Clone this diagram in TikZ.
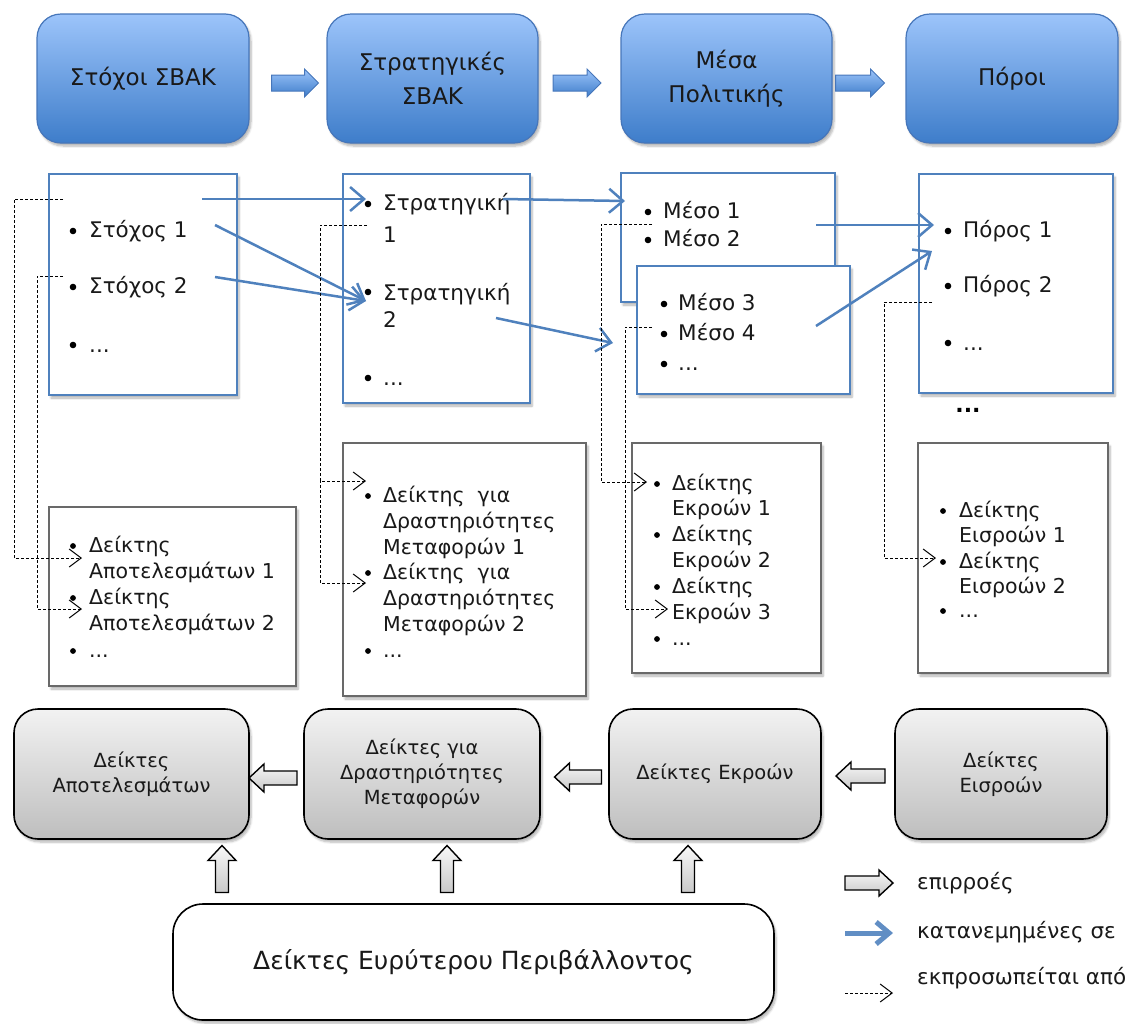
\documentclass[tikz,border=0pt]{standalone}
\usepackage{fontspec}
\setmainfont{DejaVu Sans}
\usetikzlibrary{arrows.meta,shadows.blur}
\definecolor{bluebd}{RGB}{79,129,189}
\definecolor{topbd}{RGB}{70,118,186}
\definecolor{btop}{RGB}{156,196,250}
\definecolor{bbot}{RGB}{62,125,202}
\definecolor{gtop}{RGB}{242,242,242}
\definecolor{gbot}{RGB}{190,190,190}
\definecolor{graybd}{RGB}{105,105,105}
\definecolor{arrtop}{RGB}{248,248,248}
\definecolor{arrbot}{RGB}{200,200,200}
\definecolor{txt}{RGB}{25,25,25}
\tikzset{
  shad/.style={blur shadow={shadow blur steps=6, shadow xshift=2pt, shadow yshift=-3pt, shadow opacity=30}},
  topbox/.style={draw=topbd, line width=1.2pt, rounded corners=24pt, top color=btop, bottom color=bbot, shad,
    align=center, font=\fontsize{23}{34}\selectfont, text=txt, inner sep=0pt},
  bluelist/.style={draw=bluebd, line width=2pt, fill=white, shad, inner sep=0pt},
  graylist/.style={draw=graybd, line width=2pt, fill=white, shad, inner sep=0pt},
  graybox/.style={draw=black, line width=1.6pt, rounded corners=24pt, top color=gtop, bottom color=gbot, shad,
    align=center, font=\fontsize{19.5}{25}\selectfont, text=txt, inner sep=0pt},
  envbox/.style={draw=black, line width=1.6pt, rounded corners=30pt, fill=white, shad,
    font=\fontsize{25}{30}\selectfont, text=txt, inner sep=0pt},
  itm/.style={anchor=base west, inner sep=0pt, text=txt, font=\fontsize{21.5}{25}\selectfont},
  itms/.style={anchor=base west, inner sep=0pt, text=txt, font=\fontsize{20.5}{22}\selectfont},
  legtxt/.style={anchor=west, inner sep=0pt, text=txt, font=\fontsize{21.5}{24}\selectfont},
  bluearr/.style={draw=bluebd, line width=2.5pt, -{Straight Barb[length=14pt,width=24pt,line width=2.5pt]}},
  dasharr/.style={draw=black, line width=1pt, dash pattern=on 3pt off 2pt, -{Straight Barb[length=12pt,width=18pt,line width=1pt]}},
  bluetip/.style={draw=topbd, line width=1pt, top color=btop, bottom color=bbot},
  graytip/.style={draw=black, line width=1.4pt, top color=arrtop, bottom color=arrbot},
  pics/barrow/.style n args={4}{code={
    \path[pic actions] (-#1/2,-#2) -- (#1/2-#4,-#2) -- (#1/2-#4,-#3) -- (#1/2,0) -- (#1/2-#4,#3) -- (#1/2-#4,#2) -- (-#1/2,#2) -- cycle;
  }},
}
\newcommand\bul[2]{\fill (#1,#2) circle (3.3pt);}
\newcommand\buls[2]{\fill (#1,#2) circle (2.9pt);}
\begin{document}
\begin{tikzpicture}[x=1pt,y=-1pt]
\useasboundingbox (0,0) rectangle (1143,1023);

% ---------- top boxes ----------
\node[topbox, minimum width=212pt, minimum height=129pt] (b1) at (143,78.5) {\raisebox{-3pt}{Στόχοι ΣΒΑΚ}};
\node[topbox, minimum width=211pt, minimum height=129pt] (b2) at (432.5,78.5) {Στρατηγικές\\ΣΒΑΚ};
\node[topbox, minimum width=211pt, minimum height=129pt] (b3) at (726.5,78.5) {Μέσα\\Πολιτικής};
\node[topbox, minimum width=212pt, minimum height=129pt] (b4) at (1012,78.5) {\raisebox{-3pt}{Πόροι}};

\pic[bluetip] (t1) at (295,83) {barrow={47}{8}{14}{14}};
\pic[bluetip] (t2) at (577,83) {barrow={48}{8}{14}{14}};
\pic[bluetip] (t3) at (860,83) {barrow={49}{8}{14}{14}};

% ---------- blue list boxes ----------
\node[bluelist, minimum width=188pt, minimum height=221pt] (l1) at (143,284.5) {};
\node[bluelist, minimum width=187pt, minimum height=229pt] (l2) at (436.5,288.5) {};
\node[bluelist, minimum width=214pt, minimum height=129pt] (l3a) at (728,237.5) {};
\node[bluelist, minimum width=213pt, minimum height=128pt] (l3b) at (743.5,330) {};
\node[bluelist, minimum width=194pt, minimum height=219pt] (l4) at (1016,283.5) {};

% L1
\bul{73}{231}\node[itm] (s1) at (89,237) {Στόχος 1};
\bul{73}{287}\node[itm] (s2) at (89,293) {Στόχος 2};
\bul{73}{345}\node[itm] (s3) at (89,352) {...};
% L2
\bul{368}{204}\node[itm] (r1a) at (383,210) {Στρατηγική};
\node[itm] (r1b) at (383,242) {1};
\bul{368}{292}\node[itm] (r2a) at (383,300) {Στρατηγική};
\node[itm] (r2b) at (383,327) {2};
\bul{368}{378}\node[itm] (r3) at (383,385) {...};
% L3a
\bul{648}{212}\node[itm] (m1) at (663,218) {Μέσο 1};
\bul{648}{240}\node[itm] (m2) at (663,246) {Μέσο 2};
% L3b
\bul{664}{304}\node[itm] (m3) at (678,310) {Μέσο 3};
\bul{664}{334}\node[itm] (m4) at (678,340) {Μέσο 4};
\bul{664}{364}\node[itm] (m5) at (678,370) {...};
% L4
\bul{948}{231}\node[itm] (p1) at (963,237) {Πόρος 1};
\bul{948}{286}\node[itm] (p2) at (963,292) {Πόρος 2};
\bul{948}{343}\node[itm] (p3) at (963,350) {...};
\node[inner sep=0pt, font=\fontsize{22}{25}\selectfont\bfseries] (pdots) at (968,410) {...};

% ---------- gray list boxes ----------
\node[graylist, minimum width=247pt, minimum height=179pt] (g1) at (172.5,596.5) {};
\node[graylist, minimum width=243pt, minimum height=253pt] (g2) at (464.5,569.5) {};
\node[graylist, minimum width=189pt, minimum height=230pt] (g3) at (726.5,558) {};
\node[graylist, minimum width=190pt, minimum height=230pt] (g4) at (1013,558) {};

% G1
\buls{73}{546}\node[itms] (a1a) at (89,552) {Δείκτης};
\node[itms] (a1b) at (89,578) {Αποτελεσμάτων 1};
\buls{73}{598}\node[itms] (a2a) at (89,604) {Δείκτης};
\node[itms] (a2b) at (89,630) {Αποτελεσμάτων 2};
\buls{73}{651}\node[itms] (a3) at (89,657) {...};
% G2
\buls{368}{496}\node[itms] (d1a) at (383,502) {Δείκτης\ \ για};
\node[itms] (d1b) at (383,528) {Δραστηριότητες};
\node[itms] (d1c) at (383,554) {Μεταφορών 1};
\buls{368}{573}\node[itms] (d2a) at (383,579) {Δείκτης\ \ για};
\node[itms] (d2b) at (383,605) {Δραστηριότητες};
\node[itms] (d2c) at (383,631) {Μεταφορών 2};
\buls{368}{651}\node[itms] (d3) at (383,657) {...};
% G3
\buls{657}{484}\node[itms] (e1a) at (672,490) {Δείκτης};
\node[itms] (e1b) at (672,515) {Εκροών 1};
\buls{657}{535}\node[itms] (e2a) at (672,541) {Δείκτης};
\node[itms] (e2b) at (672,567) {Εκροών 2};
\buls{657}{587}\node[itms] (e3a) at (672,593) {Δείκτης};
\node[itms] (e3b) at (672,619) {Εκροών 3};
\buls{657}{639}\node[itms] (e4) at (672,645) {...};
% G4
\buls{943}{511}\node[itms] (i1a) at (959,517) {Δείκτης};
\node[itms] (i1b) at (959,542) {Εισροών 1};
\buls{943}{562}\node[itms] (i2a) at (959,568) {Δείκτης};
\node[itms] (i2b) at (959,593) {Εισροών 2};
\buls{943}{611}\node[itms] (i3) at (959,617) {...};

% ---------- blue connectors ----------
\coordinate (bs1) at (202,199);  \coordinate (bt1) at (366,199);
\coordinate (bs2) at (215,225);  \coordinate (bt2) at (366,301);
\coordinate (bs3) at (215,277);
\coordinate (bs4) at (503,199);  \coordinate (bt4) at (625,201);
\coordinate (bs5) at (496,318);  \coordinate (bt5) at (613,343);
\coordinate (bs6) at (816,225);  \coordinate (bt6) at (934,225);
\coordinate (bs7) at (816,326);  \coordinate (bt7) at (932,251);
\draw[bluearr] (bs1) -- (bt1);
\draw[bluearr] (bs2) -- (bt2);
\draw[bluearr] (bs3) -- (bt2);
\draw[bluearr] (bs4) -- (bt4);
\draw[bluearr] (bs5) -- (bt5);
\draw[bluearr] (bs6) -- (bt6);
\draw[bluearr] (bs7) -- (bt7);

% ---------- dashed connectors ----------
\coordinate (ds1) at (63,199);  \coordinate (dt1) at (82,558);
\coordinate (ds2) at (63,276);  \coordinate (dt2) at (82,609);
\coordinate (ds3) at (367,225); \coordinate (dt3) at (366,481); \coordinate (dt4) at (366,583);
\coordinate (ds5) at (652,224); \coordinate (dt5) at (647,482);
\coordinate (ds6) at (652,327); \coordinate (dt6) at (668,609);
\coordinate (ds7) at (932,302); \coordinate (dt7) at (936,558);
\draw[dasharr] (ds1) -- (14,199) |- (dt1);
\draw[dasharr] (ds2) -- (37,276) |- (dt2);
\draw[dasharr] (ds3) -- (320,225) |- (dt3);
\draw[dasharr] (320,480) |- (dt4);
\draw[dasharr] (ds5) -- (601,224) |- (dt5);
\draw[dasharr] (ds6) -- (625,327) |- (dt6);
\draw[dasharr] (ds7) -- (884,302) |- (dt7);

% ---------- bottom gray boxes ----------
\node[graybox, minimum width=235pt, minimum height=130pt] (k1) at (131.5,774) {Δείκτες\\Αποτελεσμάτων};
\node[graybox, minimum width=236pt, minimum height=130pt] (k2) at (422,774) {Δείκτες για\\Δραστηριότητες\\Μεταφορών};
\node[graybox, minimum width=212pt, minimum height=130pt] (k3) at (715,774) {Δείκτες Εκροών};
\node[graybox, minimum width=212pt, minimum height=130pt] (k4) at (1001,774) {Δείκτες\\Εισροών};

\node[envbox, minimum width=601pt, minimum height=116pt] (env) at (473.5,962) {Δείκτες Ευρύτερου Περιβάλλοντος};

% hollow arrows
\pic[graytip, rotate=180] (h1) at (273,778) {barrow={48}{7}{14}{15}};
\pic[graytip, rotate=180] (h2) at (578,777) {barrow={47}{7}{14}{15}};
\pic[graytip, rotate=180] (h3) at (860.5,776) {barrow={49}{7}{14}{15}};
\pic[graytip, rotate=90] (v1) at (222,869) {barrow={47}{6.5}{14}{15}};
\pic[graytip, rotate=90] (v2) at (447,869) {barrow={47}{6.5}{14}{15}};
\pic[graytip, rotate=90] (v3) at (688,869) {barrow={47}{6.5}{14}{15}};

% ---------- legend ----------
\pic[graytip] (lg1) at (869,883) {barrow={48}{7}{13}{14}};
\node[legtxt] (lt1) at (917,883) {επιρροές};
\coordinate (lb1) at (845,933); \coordinate (lb2) at (893,933);
\draw[draw=bluebd!90!white, line width=5pt, -{Straight Barb[length=13pt,width=22pt,line width=5pt]}] (lb1) -- (lb2);
\node[legtxt] (lt2) at (917,932) {κατανεμημένες σε};
\coordinate (ld1) at (845,993); \coordinate (ld2) at (893,993);
\draw[dasharr] (ld1) -- (ld2);
\node[legtxt] (lt3) at (917,978) {εκπροσωπείται από};
\end{tikzpicture}
\end{document}
